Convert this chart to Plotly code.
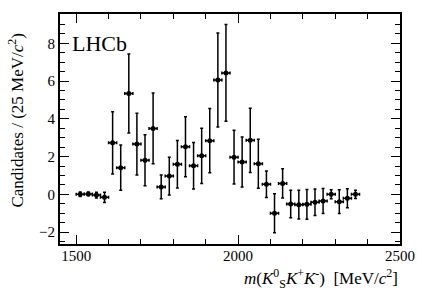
import plotly.graph_objects as go

mass = [1512.5 + 25 * i for i in range(35)]
counts = [0.00, 0.02, -0.04, -0.16, 2.73, 1.41, 5.34, 2.66, 1.80, 3.49,
          0.39, 0.97, 1.59, 2.52, 1.51, 2.04, 2.84, 6.05, 6.43, 1.97,
          1.71, 2.86, 1.62, 0.53, -1.00, 0.58, -0.51, -0.55, -0.53, -0.42,
          -0.35, 0.00, -0.39, -0.21, 0.00]
errors = [0.12, 0.10, 0.15, 0.27, 1.65, 1.20, 2.09, 1.63, 1.35, 1.87,
          0.63, 1.00, 1.26, 1.59, 1.23, 1.46, 1.70, 2.49, 2.56, 1.42,
          1.32, 1.70, 1.30, 0.70, 1.03, 0.77, 0.73, 0.76, 0.79, 0.70,
          0.66, 0.24, 0.63, 0.50, 0.22]
half_bin = 12.5

fig = go.Figure()
fig.add_trace(go.Scatter(
    x=mass, y=counts, mode="markers",
    marker=dict(color="black", size=5, symbol="circle"),
    error_y=dict(type="data", array=errors, color="black", thickness=1.5, width=1.5),
    error_x=dict(type="constant", value=half_bin, color="black", thickness=1.5, width=1.5),
    showlegend=False,
))

font = "Liberation Serif, Times New Roman, serif"
fig.update_layout(
    width=427, height=290,
    margin=dict(l=60, r=22, t=14, b=46),
    paper_bgcolor="white", plot_bgcolor="white",
    font=dict(family=font, size=15, color="black"),
    xaxis=dict(range=[1450, 2500], tickvals=[1500, 2000, 2500], ticks="inside", ticklen=9,
               tickwidth=1, tickcolor="black", showline=True, linecolor="black", linewidth=2,
               mirror="allticks", showgrid=False, zeroline=False, ticklabelstandoff=-3,
               minor=dict(dtick=100, tick0=1500, ticks="inside", ticklen=5, tickcolor="black", showgrid=False),
               tickfont=dict(size=15, family=font)),
    yaxis=dict(range=[-2.63, 9.55], tickvals=[-2, 0, 2, 4, 6, 8], ticks="inside", ticklen=9,
               tickwidth=1, tickcolor="black", showline=True, linecolor="black", linewidth=2,
               mirror="allticks", showgrid=False, zeroline=False,
               minor=dict(dtick=0.5, tick0=0, ticks="inside", ticklen=5, tickcolor="black", showgrid=False),
               tickfont=dict(size=15, family=font)),
)

fig.add_annotation(text="LHCb", xref="paper", yref="paper", x=0.03, y=0.87,
                   xanchor="left", yanchor="middle", showarrow=False,
                   font=dict(size=22, family=font, color="black"))
fig.add_annotation(text="<i>m</i>(<i>K</i><sup>0</sup><sub>S</sub><i>K</i><sup>+</sup><i>K</i><sup>-</sup>)  [MeV/<i>c</i><sup>2</sup>]",
                   xref="paper", yref="paper", x=1.0, y=-0.15, xanchor="right", yanchor="middle",
                   showarrow=False, font=dict(size=17, family=font, color="black"))
fig.add_annotation(text="Candidates / (25 MeV/<i>c</i><sup>2</sup>)",
                   xref="paper", yref="paper", x=-0.13, y=0.54, xanchor="center", yanchor="middle",
                   textangle=-90, showarrow=False, font=dict(size=17, family=font, color="black"))

fig.write_html("out.html", config={"displayModeBar": False},
               post_script="document.body.style.margin='0';document.body.style.overflow='hidden';")
